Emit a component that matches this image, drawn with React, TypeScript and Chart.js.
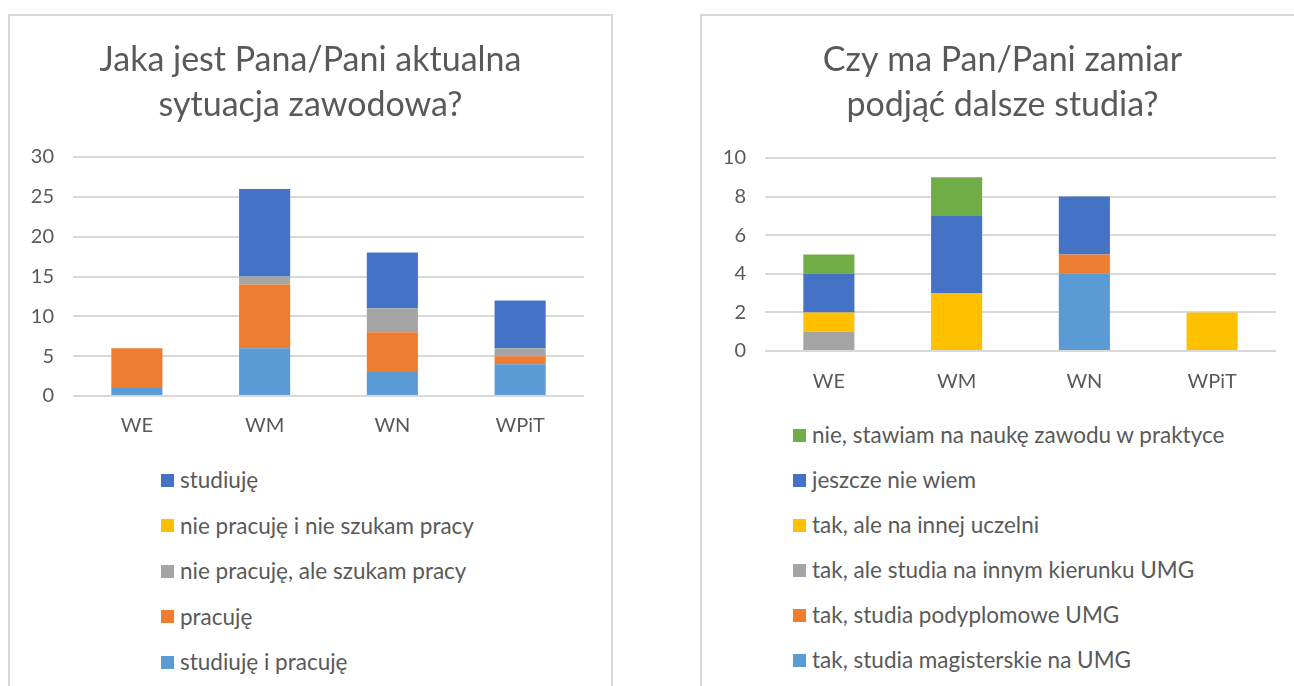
import React, { useEffect, useRef } from 'react';
import { Chart, registerables } from 'chart.js';

Chart.register(...registerables);

// ---------- data ----------
const categories = ['WE', 'WM', 'WN', 'WPiT'];

// Chart 1: Jaka jest Pana/Pani aktualna sytuacja zawodowa?
const title1 = ['Jaka jest Pana/Pani aktualna', 'sytuacja zawodowa?'];
const studiujeIPracuje = [1, 6, 3, 4];
const pracuje = [5, 8, 5, 1];
const niePracujeSzukam = [0, 1, 3, 1];
const niePracujeNieSzukam = [0, 0, 0, 0];
const studiuje = [0, 11, 7, 6];
const yTicks1 = { max: 30, step: 5 };

// Chart 2: Czy ma Pan/Pani zamiar podjąć dalsze studia?
const title2 = ['Czy ma Pan/Pani zamiar', 'podjąć dalsze studia?'];
const magisterskieUMG = [0, 0, 4, 0];
const podyplomoweUMG = [0, 0, 1, 0];
const innyKierunekUMG = [1, 0, 0, 0];
const innaUczelnia = [1, 3, 0, 2];
const nieWiem = [2, 4, 3, 0];
const nieZawod = [1, 2, 0, 0];
const yTicks2 = { max: 10, step: 2 };

const C_LBLUE = '#5B9BD5';
const C_ORANGE = '#ED7D31';
const C_GRAY = '#A5A5A5';
const C_YELLOW = '#FFC000';
const C_DBLUE = '#4472C4';
const C_GREEN = '#70AD47';

const series1 = [
  { label: 'studiuję i pracuję', data: studiujeIPracuje, color: C_LBLUE },
  { label: 'pracuję', data: pracuje, color: C_ORANGE },
  { label: 'nie pracuję, ale szukam pracy', data: niePracujeSzukam, color: C_GRAY },
  { label: 'nie pracuję i nie szukam pracy', data: niePracujeNieSzukam, color: C_YELLOW },
  { label: 'studiuję', data: studiuje, color: C_DBLUE },
];

const series2 = [
  { label: 'tak, studia magisterskie na UMG', data: magisterskieUMG, color: C_LBLUE },
  { label: 'tak, studia podyplomowe UMG', data: podyplomoweUMG, color: C_ORANGE },
  { label: 'tak, ale studia na innym kierunku UMG', data: innyKierunekUMG, color: C_GRAY },
  { label: 'tak, ale na innej uczelni', data: innaUczelnia, color: C_YELLOW },
  { label: 'jeszcze nie wiem', data: nieWiem, color: C_DBLUE },
  { label: 'nie, stawiam na naukę zawodu w praktyce', data: nieZawod, color: C_GREEN },
];

const FONT = 'Lato, "Open Sans", sans-serif';
const TEXT = '#595959';
const GRID = '#D9D9D9';

type Series = { label: string; data: number[]; color: string };

function Panel(props: {
  left: number;
  top: number;
  width: number;
  canvasHeight: number;
  title: string[];
  series: Series[];
  yMax: number;
  yStep: number;
  titleBottom: number;
  xLabelPad: number;
  legendLeft: number;
  legendFirst: number;
  legendGap: number;
}) {
  const ref = useRef<HTMLCanvasElement | null>(null);
  useEffect(() => {
    if (!ref.current) return;
    const chart = new Chart(ref.current, {
      type: 'bar',
      data: {
        labels: categories,
        datasets: props.series.map((s) => ({
          label: s.label,
          data: s.data,
          backgroundColor: s.color,
          borderWidth: 0,
          categoryPercentage: 1,
          barPercentage: 0.4,
        })),
      },
      options: {
        animation: false,
        responsive: false,
        devicePixelRatio: 1,
        layout: { padding: 0 },
        plugins: {
          legend: { display: false },
          tooltip: { enabled: false },
          title: {
            display: true,
            text: props.title,
            color: TEXT,
            font: { family: FONT, size: 34, weight: 'normal', lineHeight: 1.309 },
            padding: { top: 24, bottom: props.titleBottom },
          },
        },
        scales: {
          x: {
            stacked: true,
            grid: { display: false, drawTicks: false },
            border: { display: false },
            ticks: { color: TEXT, font: { family: FONT, size: 20 }, padding: props.xLabelPad },
            afterFit: (s: any) => {
              s.height = 58;
            },
          },
          y: {
            stacked: true,
            min: 0,
            max: props.yMax,
            grid: { color: GRID, lineWidth: 2, drawTicks: false },
            border: { display: false },
            ticks: {
              stepSize: props.yStep,
              color: TEXT,
              font: { family: FONT, size: 20 },
              padding: 19,
            },
            afterFit: (s: any) => {
              s.width = 65;
            },
          },
          ySpacer: {
            type: 'linear',
            position: 'right',
            grid: { display: false, drawTicks: false },
            border: { display: false },
            ticks: { display: false },
            afterFit: (s: any) => {
              s.width = 29;
            },
          },
        },
      },
    });
    return () => chart.destroy();
  }, []);

  const legendItems = [...props.series].reverse();
  return (
    <div
      style={{
        position: 'absolute',
        left: props.left,
        top: props.top,
        width: props.width,
        height: 700,
        boxSizing: 'border-box',
        border: `2px solid ${GRID}`,
        background: '#fff',
      }}
    >
      <canvas
        ref={ref}
        width={props.width}
        height={props.canvasHeight}
        style={{ position: 'absolute', left: -2, top: -2 }}
      />
      {legendItems.map((s, i) => (
        <div
          key={s.label}
          style={{
            position: 'absolute',
            left: props.legendLeft - props.left - 2,
            top: props.legendFirst + i * props.legendGap - props.top - 2 - 15,
            height: 30,
            lineHeight: '30px',
            whiteSpace: 'nowrap',
            fontFamily: FONT,
            fontSize: 22.5,
            color: TEXT,
            display: 'flex',
            alignItems: 'center',
          }}
        >
          <span
            style={{
              display: 'inline-block',
              width: 13,
              height: 13,
              background: s.color,
              marginRight: 6,
            }}
          />
          <span>{s.label}</span>
        </div>
      ))}
    </div>
  );
}

export default function App() {
  return (
    <div
      style={{
        position: 'absolute',
        left: 0,
        top: 0,
        width: 1294,
        height: 686,
        overflow: 'hidden',
        background: '#fff',
        fontFamily: FONT,
      }}
    >
      <Panel
        left={8}
        top={14}
        width={605}
        canvasHeight={440}
        title={title1}
        series={series1}
        yMax={yTicks1.max}
        yStep={yTicks1.step}
        titleBottom={30}
        xLabelPad={18}
        legendLeft={161}
        legendFirst={480}
        legendGap={45.5}
      />
      <Panel
        left={700}
        top={14}
        width={605}
        canvasHeight={395}
        title={title2}
        series={series2}
        yMax={yTicks2.max}
        yStep={yTicks2.step}
        titleBottom={31}
        xLabelPad={19}
        legendLeft={793}
        legendFirst={435}
        legendGap={45}
      />
    </div>
  );
}
